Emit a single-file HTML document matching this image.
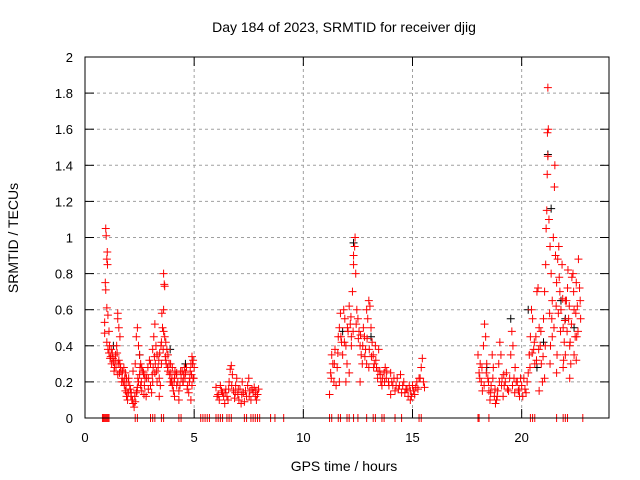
<!DOCTYPE html>
<html><head><meta charset="utf-8"><style>
body{margin:0;background:#fff}
svg{display:block;font-family:"Liberation Sans",sans-serif}
</style></head><body>
<svg id="c" width="640" height="480" xmlns="http://www.w3.org/2000/svg">
<rect width="640" height="480" fill="#fff"/>
<text x="344" y="32" font-size="14" text-anchor="middle">Day 184 of 2023, SRMTID for receiver djig</text>
<text x="344" y="471" font-size="14" text-anchor="middle">GPS time / hours</text>
<text x="18" y="238" font-size="14" text-anchor="middle" transform="rotate(-90 18 238)">SRMTID / TECUs</text>
<g id="grid"></g>
<g id="marks"></g>
<rect x="85" y="57" width="524" height="361" fill="none" stroke="#000"/>
<g id="axes"></g>
</svg>
<script>
const xTicks=[0,5,10,15,20];
const yTicks=[0,0.2,0.4,0.6,0.8,1,1.2,1.4,1.6,1.8,2];
const yTickLabels=["0","0.2","0.4","0.6","0.8","1","1.2","1.4","1.6","1.8","2"];
const c1T=[0.9,0.95,0.97,1.0,1.02,1.03,0.93,0.95,1.0,1.05,1.1,0.9,1.0,1.05,1.1,1.15,1.2,1.25,1.3,1.35,1.4,1.45,1.5,1.5,1.55,1.6,1.42,1.5,1.55,1.6,1.65,1.7,1.75,1.8,1.85,1.9,1.95,2.0,2.05,1.78,1.85,1.9,2.0,2.1,2.15,2.2,2.25,2.3,2.35,2.4,2.45,2.5,2.55,2.6,2.7,2.8,2.9,2.75,2.6,2.5,2.35,2.4,2.2,2.3,2.45,2.55,2.65,3.0,3.05,3.1,3.2,3.0,3.1,3.15,3.2,3.25,3.3,3.35,3.4,3.45,3.5,3.5,3.55,3.52,3.6,3.63,3.65,3.6,3.6,3.65,3.7,3.75,3.8,3.85,3.9,3.95,4.0,4.05,4.1,3.7,3.8,3.9,4.0,4.1,4.2,4.3,4.4,4.45,4.5,4.6,4.7,4.8,4.85,4.9,4.95,5.0,4.95,4.9,4.85,4.75,4.55,4.3,4.2,3.4,3.3,2.9,2.7];
const c1V=[0.53,1.05,1.01,0.88,0.92,0.85,0.75,0.71,0.61,0.57,0.48,0.47,0.42,0.38,0.36,0.33,0.38,0.36,0.31,0.28,0.35,0.40,0.55,0.58,0.50,0.45,0.28,0.24,0.32,0.30,0.26,0.22,0.20,0.18,0.15,0.12,0.10,0.14,0.18,0.28,0.25,0.22,0.22,0.12,0.10,0.08,0.06,0.09,0.14,0.17,0.20,0.24,0.18,0.15,0.13,0.12,0.16,0.22,0.28,0.35,0.45,0.50,0.26,0.30,0.40,0.30,0.26,0.18,0.14,0.20,0.25,0.30,0.38,0.45,0.52,0.40,0.35,0.28,0.22,0.18,0.30,0.42,0.50,0.58,0.60,0.74,0.73,0.80,0.48,0.45,0.42,0.38,0.35,0.30,0.25,0.20,0.18,0.15,0.12,0.32,0.26,0.20,0.28,0.22,0.18,0.15,0.22,0.26,0.20,0.25,0.18,0.22,0.30,0.34,0.32,0.28,0.22,0.18,0.10,0.14,0.28,0.10,0.25,0.12,0.20,0.22,0.24];
const c1bT=[1.12,1.18,1.22,1.28,1.33,1.38,1.47,1.52,1.58,1.63,1.68,1.72,1.82,1.88,1.93,1.98,2.08,2.12,2.18,2.28,2.38,2.42,2.52,2.58,2.68,2.72,2.82,2.88,2.95,3.08,3.12,3.18,3.22,3.28,3.38,3.42,3.48,3.58,3.68,3.72,3.78,3.88,3.92,3.98,4.08,4.12,4.18,4.25,4.35,4.38,4.48,4.52,4.58,4.65,4.68,4.78,4.82,4.88,4.92,4.98];
const c1bV=[0.40,0.34,0.30,0.33,0.26,0.32,0.36,0.30,0.25,0.28,0.20,0.26,0.22,0.18,0.14,0.20,0.16,0.14,0.10,0.12,0.15,0.22,0.28,0.20,0.25,0.18,0.22,0.28,0.32,0.24,0.28,0.34,0.30,0.26,0.32,0.36,0.40,0.38,0.34,0.30,0.28,0.24,0.30,0.22,0.20,0.26,0.24,0.20,0.18,0.26,0.20,0.24,0.22,0.28,0.16,0.20,0.26,0.24,0.30,0.22];
const c2T=[6.0,6.1,6.15,6.2,6.3,6.35,6.4,6.45,6.5,6.6,6.65,6.7,6.75,6.8,6.85,6.9,7.0,7.05,7.1,7.2,7.25,7.3,7.4,7.45,7.5,7.55,7.6,7.7,7.75,7.8,7.85,7.9,7.95,6.55,6.95,7.15,6.05,6.25,6.42,6.58,6.72,6.88,7.02,7.18,7.35,7.52,7.65,7.82];
const c2V=[0.17,0.13,0.10,0.18,0.14,0.12,0.08,0.16,0.12,0.20,0.27,0.29,0.24,0.15,0.11,0.18,0.13,0.10,0.16,0.20,0.14,0.09,0.12,0.18,0.22,0.15,0.10,0.14,0.17,0.12,0.10,0.13,0.16,0.10,0.22,0.08,0.12,0.15,0.14,0.16,0.18,0.14,0.16,0.13,0.15,0.12,0.16,0.15];
const c3T=[11.2,11.25,11.3,11.35,11.4,11.45,11.5,11.55,11.6,11.65,11.7,11.75,11.8,11.85,11.9,11.95,12.0,12.05,12.1,12.15,12.2,12.25,12.3,12.35,12.37,12.3,12.4,12.45,12.5,12.55,12.6,12.65,12.7,12.75,12.8,12.85,12.9,12.95,13.0,13.05,13.1,13.15,13.2,13.25,13.3,13.35,13.4,13.5,13.55,13.6,13.7,13.75,13.8,13.9,14.0,14.1,14.2,14.3,14.4,14.5,14.6,14.7,14.8,14.9,15.0,15.1,15.2,15.3,15.4,15.45,15.5,15.55,11.95,12.1,12.6,13.0,14.0,14.45,14.9,12.2,12.9,13.45,11.65];
const c3V=[0.13,0.25,0.35,0.30,0.20,0.38,0.18,0.28,0.45,0.50,0.58,0.42,0.35,0.60,0.55,0.40,0.30,0.48,0.62,0.52,0.45,0.70,0.85,0.95,1.00,0.90,0.80,0.60,0.55,0.48,0.40,0.35,0.30,0.50,0.45,0.38,0.60,0.55,0.65,0.62,0.50,0.42,0.35,0.30,0.40,0.28,0.22,0.26,0.20,0.18,0.25,0.28,0.22,0.20,0.25,0.18,0.15,0.22,0.18,0.14,0.20,0.16,0.12,0.15,0.18,0.13,0.20,0.22,0.28,0.33,0.20,0.17,0.20,0.25,0.20,0.28,0.13,0.24,0.10,0.40,0.30,0.38,0.20];
const c3bT=[11.28,11.42,11.58,11.72,11.88,12.02,12.18,12.28,12.42,12.52,12.62,12.72,12.82,12.92,13.02,13.12,13.22,13.32,13.42,13.52,13.62,13.72,13.82,13.92,14.05,14.15,14.25,14.35,14.55,14.65,14.75,14.85,14.95,15.05,15.15,15.25,15.35];
const c3bV=[0.22,0.30,0.36,0.45,0.42,0.50,0.56,0.48,0.52,0.44,0.46,0.40,0.34,0.44,0.38,0.34,0.28,0.32,0.26,0.24,0.22,0.20,0.26,0.18,0.20,0.22,0.18,0.16,0.18,0.14,0.16,0.18,0.12,0.15,0.17,0.16,0.22];
const c4T=[18.0,18.05,18.1,18.15,18.2,18.25,18.3,18.35,18.4,18.45,18.5,18.55,18.6,18.65,18.7,18.75,18.8,18.85,18.9,18.95,19.0,19.05,19.1,19.15,19.2,19.3,19.4,19.5,19.55,19.6,19.65,19.7,19.8,19.85,19.9,20.0,20.1,20.2,20.3,20.35,20.4,20.45,20.5,20.55,20.6,20.65,20.7,20.75,20.8,20.85,20.9,20.95,21.0,21.05,21.1,21.12,21.15,21.17,21.2,21.18,21.22,21.2,21.25,21.3,21.35,21.4,21.45,21.5,21.52,21.55,21.6,21.65,21.7,21.75,21.8,21.85,21.9,21.95,22.0,22.05,22.1,22.15,22.2,22.25,22.3,22.35,22.4,22.45,22.5,22.55,22.6,22.65,22.7,21.3,21.6,21.9,22.2,22.5,21.05,20.8,21.4,22.0,22.4];
const c4V=[0.35,0.25,0.30,0.20,0.15,0.40,0.52,0.45,0.30,0.22,0.15,0.10,0.18,0.35,0.28,0.12,0.08,0.10,0.15,0.30,0.42,0.35,0.22,0.12,0.18,0.25,0.15,0.35,0.48,0.40,0.22,0.28,0.20,0.15,0.12,0.18,0.22,0.14,0.25,0.35,0.45,0.60,0.55,0.38,0.30,0.45,0.70,0.72,0.50,0.40,0.30,0.20,0.55,0.70,0.85,1.05,1.15,1.35,1.45,1.58,1.60,1.83,1.10,0.95,0.80,0.65,1.00,1.28,1.40,0.90,0.75,0.88,0.95,0.70,0.60,0.85,0.50,0.42,0.35,0.65,0.72,0.55,0.40,0.30,0.78,0.80,0.60,0.45,0.75,0.62,0.88,0.72,0.55,0.30,0.25,0.28,0.22,0.32,0.22,0.15,0.45,0.65,0.35];
const c4bT=[18.08,18.18,18.28,18.38,18.48,18.58,18.68,18.78,18.88,18.98,19.08,19.18,19.25,19.35,19.45,19.58,19.68,19.75,19.88,19.95,20.05,20.15,20.25,20.38,20.48,20.58,20.68,20.78,20.88,20.98,21.08,21.28,21.38,21.48,21.58,21.68,21.78,21.88,21.98,22.08,22.18,22.28,22.38,22.48,22.58,22.68,21.32,21.62,21.92,22.22,22.52,22.12,21.72];
const c4bV=[0.22,0.28,0.18,0.25,0.20,0.14,0.22,0.16,0.12,0.20,0.18,0.24,0.20,0.16,0.22,0.18,0.14,0.20,0.16,0.22,0.12,0.16,0.20,0.28,0.36,0.42,0.32,0.38,0.48,0.34,0.40,0.58,0.55,0.50,0.62,0.58,0.48,0.66,0.54,0.48,0.62,0.52,0.70,0.58,0.48,0.65,0.40,0.35,0.32,0.42,0.45,0.82,0.78];
const zeroT=[0.8,0.85,0.9,0.95,1.0,1.05,1.1,2.3,2.4,3.0,3.1,3.2,3.5,3.6,4.3,4.4,5.3,5.4,5.5,5.6,5.7,6.0,6.1,6.2,6.3,6.5,6.6,6.7,7.3,7.4,7.6,7.7,7.8,7.9,8.0,8.5,8.7,9.1,11.2,11.3,11.6,11.7,12.0,12.1,12.3,12.5,12.9,13.2,13.3,13.6,13.7,14.2,14.5,15.3,15.4,18.0,18.05,18.5,20.4,20.5,20.6,21.6,21.9,22.0,22.1,22.8];
const blackT=[21.2,21.35,12.3,20.3,22.0,20.7,3.9,19.5,21.8,13.1,1.3,2.5,18.4,21.0,22.4,11.8,4.6];
const blackV=[1.46,1.16,0.97,0.60,0.55,0.28,0.38,0.55,0.65,0.45,0.40,0.35,0.28,0.42,0.50,0.48,0.30];

const NS="http://www.w3.org/2000/svg";
const X0=85,X1=609,Y0=418,Y1=57;
const xs=t=>X0+(t/24)*(X1-X0);
const ys=v=>Y0-(v/2)*(Y0-Y1);
const grid=document.getElementById('grid'),axes=document.getElementById('axes'),marks=document.getElementById('marks');
function mk(tag,at,parent){const e=document.createElementNS(NS,tag);for(const k in at)e.setAttribute(k,at[k]);parent.appendChild(e);return e;}
yTicks.forEach((v,i)=>{
  const y=ys(v);
  if(i>0&&i<yTicks.length-1){const g=mk('line',{x1:X0,x2:X1,y1:y,y2:y,stroke:'#a0a0a0','stroke-dasharray':'3,3'},grid);
  
  }
  const t=mk('line',{x1:X0,x2:X0+9,y1:y,y2:y,stroke:'#000'},axes);
  
  
  const t2=mk('line',{x1:X1-9,x2:X1,y1:y,y2:y,stroke:'#000'},axes);
  
  
  const l=mk('text',{x:X0-12,y:y+5,'font-size':13,'text-anchor':'end'},axes);
  l.textContent=yTickLabels[i];
  
  
});
xTicks.forEach(v=>{
  const x=xs(v);
  if(v>0){const g=mk('line',{x1:x,x2:x,y1:Y1,y2:Y0,stroke:'#a0a0a0','stroke-dasharray':'3,3'},grid);
  
  }
  const t=mk('line',{x1:x,x2:x,y1:Y0-9,y2:Y0,stroke:'#000'},axes);
  
  
  const t2=mk('line',{x1:x,x2:x,y1:Y1,y2:Y1+9,stroke:'#000'},axes);
  
  
  const l=mk('text',{x:x,y:Y0+24,'font-size':13,'text-anchor':'middle'},axes);
  l.textContent=String(v);
  
  
});
function plus(ts,vs,color,name){
  let d='';
  for(let i=0;i<ts.length;i++){const x=xs(ts[i]),y=ys(vs[i]);d+=`M${x-4},${y}h8M${x},${y-4}v8`;}
  const p=mk('path',{d:d,stroke:color,'stroke-width':1,fill:'none'},marks);
  
  
}
plus(blackT,blackV,'#000','black-series-points');
plus(c1T,c1V,'#f00','red-points-cluster-1');
plus(c1bT,c1bV,'#f00','red-points-cluster-1b');
plus(c2T,c2V,'#f00','red-points-cluster-2');
plus(c3T,c3V,'#f00','red-points-cluster-3');
plus(c3bT,c3bV,'#f00','red-points-cluster-3b');
plus(c4T,c4V,'#f00','red-points-cluster-4');
plus(c4bT,c4bV,'#f00','red-points-cluster-4b');
plus(zeroT,zeroT.map(()=>0),'#f00','red-zero-points');
</script>
</body></html>
